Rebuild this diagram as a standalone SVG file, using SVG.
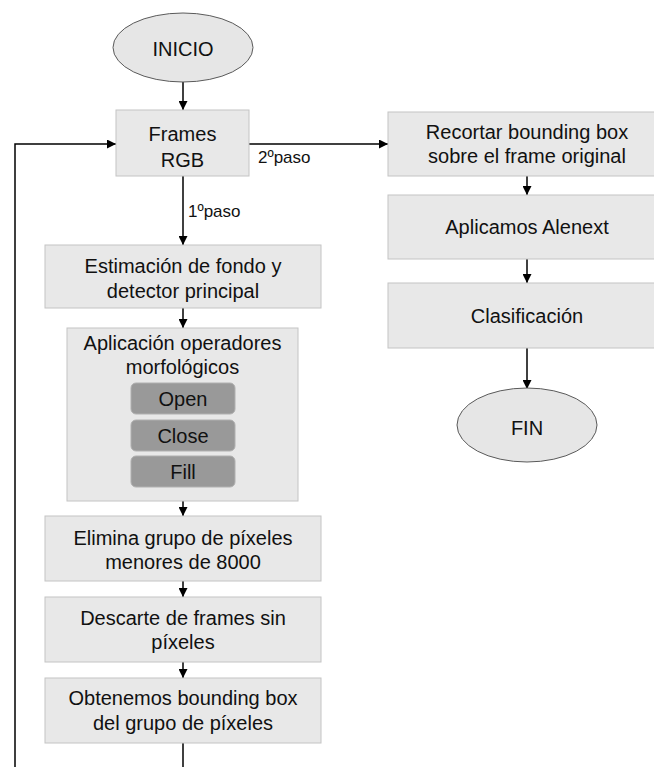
<svg xmlns="http://www.w3.org/2000/svg" width="654" height="767" viewBox="0 0 654 767">
  <style>
    .box { fill: #e8e8e8; stroke: #c4c4c4; stroke-width: 1; }
    .term { fill: #e6e6e6; stroke: #5a5a5a; stroke-width: 1; }
    .op { fill: #999999; stroke: #b0b0b0; stroke-width: 1; }
    .t { font-family: "Liberation Sans", Arial, Helvetica, sans-serif; font-size: 20px; fill: #111111; text-anchor: middle; }
    .lbl { font-family: "Liberation Sans", Arial, Helvetica, sans-serif; font-size: 17px; fill: #111111; }
    .edge { fill: none; stroke: #000000; stroke-width: 1.5; }
  </style>
  <defs>
    <marker id="arrow" viewBox="0 0 10 10" refX="10" refY="5" markerWidth="9" markerHeight="9" markerUnits="userSpaceOnUse" orient="auto">
      <path d="M0,0 L10,5 L0,10 z" fill="#000000"/>
    </marker>
  </defs>

  <rect width="654" height="767" fill="#ffffff"/>

  <!-- connectors -->
  <g id="connectors">
    <line class="edge" x1="183" y1="82" x2="183" y2="110" marker-end="url(#arrow)"/>
    <line class="edge" x1="183" y1="176" x2="183" y2="245" marker-end="url(#arrow)"/>
    <text class="lbl" x="188" y="217">1ºpaso</text>
    <line class="edge" x1="183" y1="308" x2="183" y2="328" marker-end="url(#arrow)"/>
    <line class="edge" x1="183" y1="501" x2="183" y2="516" marker-end="url(#arrow)"/>
    <line class="edge" x1="183" y1="581" x2="183" y2="597" marker-end="url(#arrow)"/>
    <line class="edge" x1="183" y1="662" x2="183" y2="678" marker-end="url(#arrow)"/>
    <line class="edge" x1="183" y1="743" x2="183" y2="767"/>
    <polyline class="edge" points="15,767 15,144 116,144" marker-end="url(#arrow)"/>
    <line class="edge" x1="249" y1="144" x2="388" y2="144" marker-end="url(#arrow)"/>
    <text class="lbl" x="258" y="163">2ºpaso</text>
    <line class="edge" x1="527" y1="176" x2="527" y2="195" marker-end="url(#arrow)"/>
    <line class="edge" x1="527" y1="259" x2="527" y2="283" marker-end="url(#arrow)"/>
    <line class="edge" x1="527" y1="348" x2="527" y2="389" marker-end="url(#arrow)"/>
  </g>

  <g id="inicio">
    <ellipse class="term" cx="183" cy="47.5" rx="70" ry="34.5"/>
    <text class="t" x="183" y="56">INICIO</text>
  </g>

  <g id="frames-rgb">
    <rect class="box" x="116" y="110" width="133" height="66"/>
    <text class="t" x="182.5" y="141">Frames</text>
    <text class="t" x="182.5" y="167">RGB</text>
  </g>

  <g id="estimacion">
    <rect class="box" x="45" y="245" width="276" height="63"/>
    <text class="t" x="183" y="273">Estimación de fondo y</text>
    <text class="t" x="183" y="298">detector principal</text>
  </g>

  <g id="morfologia">
    <rect class="box" x="67" y="328" width="231" height="173"/>
    <text class="t" x="182.5" y="350">Aplicación operadores</text>
    <text class="t" x="182.5" y="374">morfológicos</text>
    <g id="op-open">
      <rect class="op" x="131" y="383" width="104" height="31" rx="5"/>
      <text class="t" x="183" y="405.5">Open</text>
    </g>
    <g id="op-close">
      <rect class="op" x="131" y="420" width="104" height="31" rx="5"/>
      <text class="t" x="183" y="442.5">Close</text>
    </g>
    <g id="op-fill">
      <rect class="op" x="131" y="456" width="104" height="31" rx="5"/>
      <text class="t" x="183" y="478.5">Fill</text>
    </g>
  </g>

  <g id="elimina">
    <rect class="box" x="45" y="516" width="276" height="65"/>
    <text class="t" x="183" y="545">Elimina grupo de píxeles</text>
    <text class="t" x="183" y="569">menores de 8000</text>
  </g>

  <g id="descarte">
    <rect class="box" x="45" y="597" width="276" height="65"/>
    <text class="t" x="183" y="625">Descarte de frames sin</text>
    <text class="t" x="183" y="649">píxeles</text>
  </g>

  <g id="obtenemos">
    <rect class="box" x="45" y="678" width="276" height="65"/>
    <text class="t" x="183" y="705">Obtenemos bounding box</text>
    <text class="t" x="183" y="730">del grupo de píxeles</text>
  </g>

  <g id="recortar">
    <rect class="box" x="388" y="112" width="278" height="64"/>
    <text class="t" x="527" y="139">Recortar bounding box</text>
    <text class="t" x="527" y="163">sobre el frame original</text>
  </g>

  <g id="alexnet">
    <rect class="box" x="388" y="195" width="278" height="64"/>
    <text class="t" x="527" y="234">Aplicamos Alenext</text>
  </g>

  <g id="clasificacion">
    <rect class="box" x="388" y="283" width="278" height="65"/>
    <text class="t" x="527" y="323">Clasificación</text>
  </g>

  <g id="fin">
    <ellipse class="term" cx="527" cy="425" rx="70" ry="37"/>
    <text class="t" x="527" y="435">FIN</text>
  </g>
</svg>
